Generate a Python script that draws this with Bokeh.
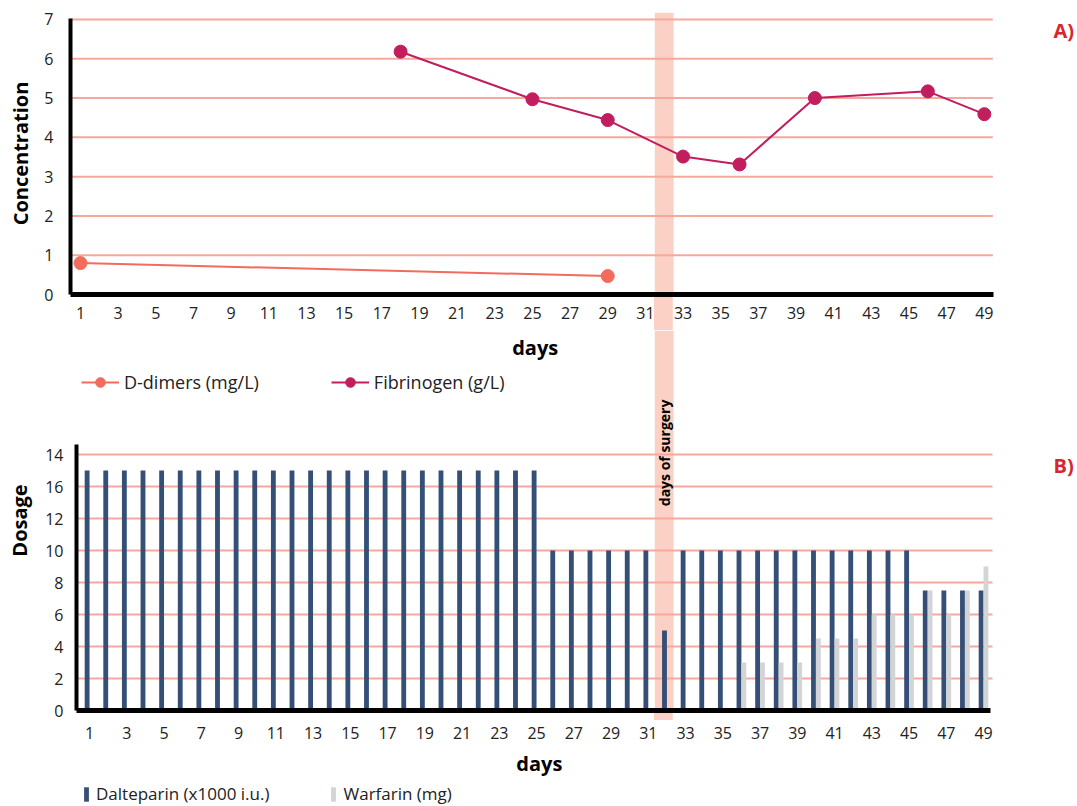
import math
from bokeh.plotting import figure
from bokeh.models import (ColumnDataSource, FixedTicker, Range1d, BoxAnnotation,
                          Label, Legend, LegendItem)
from bokeh.layouts import column
from bokeh.transform import dodge
from bokeh.embed import file_html
from bokeh.resources import INLINE

FONT = "Open Sans"
NAN = float("nan")

# ---------------- data ----------------
day_ticks = [1, 3, 5, 7, 9, 11, 13, 15, 17, 19, 21, 23, 25, 27, 29, 31, 33, 35,
             37, 39, 41, 43, 45, 47, 49]
conc_ticks = [0, 1, 2, 3, 4, 5, 6, 7]
dose_ticks = [0, 2, 4, 6, 8, 10, 12, 14, 16]
dose_tick_labels = ["0", "2", "4", "6", "8", "10", "12", "16", "14"]

ddimer_days = [1, 29]
ddimer_vals = [0.80, 0.47]

fib_days = [18, 25, 29, 33, 36, 40, 46, 49]
fib_vals = [6.18, 4.97, 4.44, 3.51, 3.31, 5.00, 5.17, 4.59]

days = [1, 2, 3, 4, 5, 6, 7, 8, 9, 10, 11, 12, 13, 14, 15, 16, 17, 18, 19, 20,
        21, 22, 23, 24, 25, 26, 27, 28, 29, 30, 31, 32, 33, 34, 35, 36, 37, 38,
        39, 40, 41, 42, 43, 44, 45, 46, 47, 48, 49]
dalteparin = [15, 15, 15, 15, 15, 15, 15, 15, 15, 15, 15, 15, 15, 15, 15, 15,
              15, 15, 15, 15, 15, 15, 15, 15, 15, 10, 10, 10, 10, 10, 10, 5,
              10, 10, 10, 10, 10, 10, 10, 10, 10, 10, 10, 10, 10,
              7.5, 7.5, 7.5, 7.5]
warfarin = [0, 0, 0, 0, 0, 0, 0, 0, 0, 0, 0, 0, 0, 0, 0, 0, 0, 0, 0, 0,
            0, 0, 0, 0, 0, 0, 0, 0, 0, 0, 0, 0, 0, 0, 0,
            3, 3, 3, 3, 4.5, 4.5, 4.5, 6, 6, 6, 7.5, 6, 7.5, 9]

surgery_day = 32

# ---------------- colours ----------------
GRID = "#f5a89b"
BAND = "#fbd1c5"
C_DD = "#f26b5c"
C_FIB = "#c21d5e"
C_DAL = "#354f77"
C_WAR = "#d3d4d5"
RED = "#d7262e"


def make_fig(**kw):
    p = figure(output_backend="svg", toolbar_location=None, **kw)
    try:
        p.frame_align = False
        ok = True
    except Exception:
        ok = False
    return p, ok


# ---------------- geometry ----------------
W = 1075
T1, FH1 = 12, 282                  # chart A frame
B1 = 36
FH2 = 380                          # chart B frame (top part holds A's legend)
L2 = 76
B2 = 36
H3 = 59                            # strip under chart B

_probe, ALIGN_OFF = make_fig()
L1 = 70 if ALIGN_OFF else L2
FW1 = W - L1
X1_start = 1 - (80 - L1) / 18.83
X1 = (X1_start, X1_start + FW1 / 18.83)
Y1 = (0, FH1 / 39.29)

FW2 = W - L2
X2 = (0.30, 0.30 + FW2 / 18.625)
Y2 = (0, FH2 / 16.0)

DAYS_LABEL_DAY = 25.15


def to_px(d, rng, left, fw):
    return left + (d - rng[0]) * fw / (rng[1] - rng[0])


def from_px(x, rng, left, fw):
    return rng[0] + (x - left) * (rng[1] - rng[0]) / fw


band_px0 = to_px(surgery_day - 0.5, X1, L1, FW1)
band_px1 = to_px(surgery_day + 0.5, X1, L1, FW1)


def band_css(y0, h):
    return {"background-image": f"linear-gradient({BAND}, {BAND})",
            "background-repeat": "no-repeat",
            "background-position": f"{band_px0:.1f}px {y0}px",
            "background-size": f"{band_px1 - band_px0:.1f}px {h}px"}


def style_common(p):
    p.outline_line_color = None
    p.background_fill_color = "white"
    p.border_fill_color = None
    for ax in (p.xaxis[0], p.yaxis[0]):
        ax.axis_line_color = "black"
        ax.major_tick_line_color = None
        ax.minor_tick_line_color = None
        ax.major_label_text_font = FONT
        ax.major_label_text_font_size = "16px"
        ax.major_label_text_color = "#222222"
        ax.axis_label_text_font = FONT
        ax.axis_label_text_font_style = "bold"
        ax.axis_label_text_font_size = "20px"
        ax.axis_label_text_color = "black"
    p.xgrid.visible = False
    p.ygrid.visible = False


def text_label(p, x, y, text, size, color="black", angle=0.0, align="center"):
    p.add_layout(Label(x=x, y=y, text=text, angle=angle, text_font=FONT,
                       text_font_style="bold", text_font_size=size,
                       text_color=color, text_align=align,
                       text_baseline="middle"))


# ================= Chart A =================
p1, _ = make_fig(frame_width=FW1, frame_height=FH1, x_range=Range1d(*X1),
                 y_range=Range1d(*Y1), min_border_left=L1, min_border_right=0,
                 min_border_top=T1, min_border_bottom=B1)
style_common(p1)
p1.styles = band_css(T1 + FH1, B1 + 30)
p1.xaxis.ticker = FixedTicker(ticks=day_ticks)
p1.yaxis.ticker = FixedTicker(ticks=conc_ticks)
p1.xaxis.axis_line_width = 5
p1.yaxis.axis_line_width = 4
p1.xaxis.bounds = (from_px(67, X1, L1, FW1), 49.5)
p1.yaxis.bounds = (0, 7.03)
p1.yaxis.axis_label = "Concentration"
p1.xaxis.major_label_standoff = 6
p1.yaxis.major_label_standoff = 11
p1.yaxis.axis_label_standoff = 7

p1.add_layout(BoxAnnotation(left=surgery_day - 0.5, right=surgery_day + 0.5,
                            fill_color=BAND, fill_alpha=1, line_color=None,
                            level="underlay"))

grid1 = conc_ticks[1:]
g1_start = from_px(70, X1, L1, FW1)
p1.segment(x0=[g1_start] * len(grid1), x1=[49.45] * len(grid1), y0=grid1,
           y1=grid1, line_color=GRID, line_width=2)

src_dd = ColumnDataSource(dict(x=ddimer_days, y=ddimer_vals))
src_fib = ColumnDataSource(dict(x=fib_days, y=fib_vals))
p1.line("x", "y", source=src_dd, line_color=C_DD, line_width=2)
p1.scatter("x", "y", source=src_dd, size=13, fill_color=C_DD, line_color=C_DD)
p1.line("x", "y", source=src_fib, line_color=C_FIB, line_width=2)
p1.scatter("x", "y", source=src_fib, size=13, fill_color=C_FIB, line_color=C_FIB)

text_label(p1, from_px(1053, X1, L1, FW1), 6.72, "A)", "20px", RED, align="left")

# ================= Chart B =================
p2, _ = make_fig(frame_width=FW2, frame_height=FH2, x_range=Range1d(*X2),
                 y_range=Range1d(*Y2), min_border_left=L2, min_border_right=0,
                 min_border_top=0, min_border_bottom=B2)
style_common(p2)
p2.styles = band_css(FH2, 10)
p2.xaxis.ticker = FixedTicker(ticks=day_ticks)
p2.yaxis.ticker = FixedTicker(ticks=dose_ticks)
p2.yaxis.major_label_overrides = {t: s for t, s in zip(dose_ticks, dose_tick_labels)}
p2.xaxis.axis_line_width = 5
p2.yaxis.axis_line_width = 4
p2.xaxis.bounds = (0.30, 49.4)
p2.yaxis.bounds = (0, 16.6)
p2.yaxis.axis_label = "Dosage"
p2.xaxis.major_label_standoff = 10
p2.yaxis.major_label_standoff = 7
p2.yaxis.axis_label_standoff = 9

p2.add_layout(BoxAnnotation(left=from_px(band_px0, X2, L2, FW2),
                            right=from_px(band_px1, X2, L2, FW2),
                            fill_color=BAND, fill_alpha=1, line_color=None,
                            level="underlay"))

grid2 = dose_ticks[1:]
p2.segment(x0=[X2[0]] * len(grid2), x1=[49.48] * len(grid2), y0=grid2, y1=grid2,
           line_color=GRID, line_width=2)

src_b = ColumnDataSource(dict(day=days, dal=dalteparin, war=warfarin))
p2.vbar(x=dodge("day", -0.13, range=p2.x_range), top="dal", width=0.26,
        source=src_b, fill_color=C_DAL, line_color=None)
p2.vbar(x=dodge("day", 0.13, range=p2.x_range), top="war", width=0.26,
        source=src_b, fill_color=C_WAR, line_color=None)

text_label(p2, from_px((band_px0 + band_px1) / 2, X2, L2, FW2), 16.1,
           "days of surgery", "14px", angle=math.pi / 2)
text_label(p2, from_px(1053, X2, L2, FW2), 15.31, "B)", "20px", RED, align="left")

# x-axis title of chart A (sits in the gap between the two charts)
days_px_top = to_px(DAYS_LABEL_DAY, X1, L1, FW1)
text_label(p2, from_px(days_px_top, X2, L2, FW2), (710 - 347) / 16.0,
           "days", "20px")

# legend of chart A (legend proxies carry no visible data)
proxy = ColumnDataSource(dict(x=[NAN], y=[NAN]))
lk_dd = p2.line("x", "y", source=proxy, line_color=C_DD, line_width=2)
sk_dd = p2.scatter("x", "y", source=proxy, size=13, fill_color=C_DD, line_color=C_DD)
lk_fib = p2.line("x", "y", source=proxy, line_color=C_FIB, line_width=2)
sk_fib = p2.scatter("x", "y", source=proxy, size=13, fill_color=C_FIB, line_color=C_FIB)
leg1 = Legend(items=[LegendItem(label="D-dimers (mg/L)", renderers=[lk_dd, sk_dd]),
                     LegendItem(label="Fibrinogen (g/L)", renderers=[lk_fib, sk_fib])],
              orientation="horizontal",
              location=(int(round(81 - L2)), 316),
              border_line_color=None, background_fill_alpha=0,
              padding=0, margin=0, spacing=72, label_standoff=5,
              glyph_width=38, glyph_height=24,
              label_text_font=FONT, label_text_font_size="18px",
              label_text_color="#222222")
p2.add_layout(leg1)

# ================= strip under chart B: x title + legend =================
p3, _ = make_fig(frame_width=FW2, frame_height=H3, x_range=p2.x_range,
                 y_range=Range1d(0, H3), min_border_left=L2, min_border_right=0,
                 min_border_top=0, min_border_bottom=0)
p3.axis.visible = False
p3.grid.visible = False
p3.outline_line_color = None
p3.border_fill_color = None
p3.background_fill_color = None

text_label(p3, DAYS_LABEL_DAY, 42, "days", "20px")

proxy_b = ColumnDataSource(dict(x=[NAN], top=[NAN]))
vk_dal = p3.vbar(x="x", top="top", width=0.1, source=proxy_b, fill_color=C_DAL,
                 line_color=None)
vk_war = p3.vbar(x="x", top="top", width=0.1, source=proxy_b, fill_color=C_WAR,
                 line_color=None)
leg2 = Legend(items=[LegendItem(label="Dalteparin (x1000 i.u.)", renderers=[vk_dal]),
                     LegendItem(label="Warfarin (mg)", renderers=[vk_war])],
              orientation="horizontal", location=(int(round(83 - L2)), 0),
              border_line_color=None, background_fill_alpha=0,
              padding=0, margin=0, spacing=61, label_standoff=7,
              glyph_width=6, glyph_height=18,
              label_text_font=FONT, label_text_font_size="17px",
              label_text_color="#222222")
p3.add_layout(leg2)

layout = column(p1, p2, p3, spacing=0)
open("out.html", "w").write(file_html(layout, INLINE))
